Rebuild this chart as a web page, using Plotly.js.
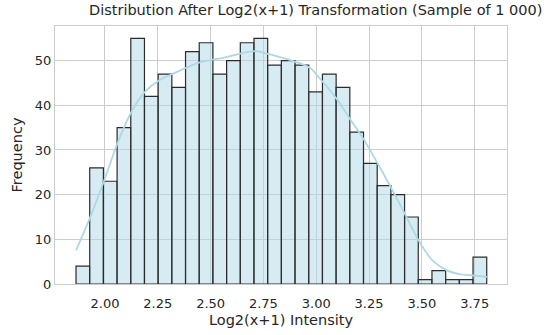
<!DOCTYPE html>
<html>
<head>
<meta charset="utf-8">
<script src="https://cdn.plot.ly/plotly-3.0.1.min.js"></script>
<style>html,body{margin:0;padding:0;background:#fff;}#chart{width:550px;height:335px;}</style>
</head>
<body>
<div id="chart"></div>
<script>
// Histogram bins (30 bins)
const binStart = 1.863;
const binWidth = 0.0648;
const counts = [4, 26, 23, 35, 55, 42, 47, 44, 52, 54, 47, 50, 54, 55, 49, 50, 49, 43, 47, 44, 34, 27, 22, 20, 15, 1, 3, 1, 1, 6];

// KDE curve
const kdeX = [1.863, 1.929, 1.992, 2.060, 2.126, 2.189, 2.260, 2.323, 2.449, 2.576, 2.670, 2.718, 2.781, 2.891, 2.970, 3.017, 3.096, 3.159, 3.222, 3.293, 3.356, 3.424, 3.485, 3.548, 3.616, 3.679, 3.742, 3.808];
const kdeY = [7.5, 14.8, 22.6, 31.6, 38.6, 43.0, 45.7, 47.1, 49.6, 50.8, 51.9, 52.1, 51.4, 49.9, 48.4, 46.0, 41.5, 37.0, 32.6, 26.8, 21.4, 15.3, 9.7, 5.4, 3.1, 2.2, 1.9, 1.6];

const xTicks = [2.00, 2.25, 2.50, 2.75, 3.00, 3.25, 3.50, 3.75];
const yTicks = [0, 10, 20, 30, 40, 50];

const titleText = "Distribution After Log2(x+1) Transformation (Sample of 1 000)";
const xTitle = "Log2(x+1) Intensity";
const yTitle = "Frequency";

const centers = counts.map((c, i) => binStart + binWidth * (i + 0.5));

const txt = '#262626';
const font = 'DejaVu Sans, sans-serif';

const data = [
  {
    type: 'bar',
    x: centers,
    y: counts,
    width: binWidth,
    marker: {color: 'rgba(173,216,230,0.5)', line: {color: '#2b2b2b', width: 1.2}},
    hoverinfo: 'skip'
  },
  {
    type: 'scatter',
    mode: 'lines',
    x: kdeX,
    y: kdeY,
    line: {color: '#add8e6', width: 1.8, shape: 'spline', smoothing: 0.8},
    hoverinfo: 'skip'
  }
];

const layout = {
  width: 550, height: 335,
  margin: {l: 55, r: 43, t: 26, b: 51},
  paper_bgcolor: '#fff', plot_bgcolor: '#fff',
  showlegend: false,
  bargap: 0,
  font: {family: font, color: txt, size: 13},
  title: {text: titleText, font: {family: font, size: 14.5, color: txt}, x: 0.574, xanchor: 'center', y: 0.985, yanchor: 'top'},
  xaxis: {
    range: [1.7635, 3.903],
    tickvals: xTicks,
    ticktext: xTicks.map(v => v.toFixed(2)),
    showgrid: true, gridcolor: '#cccccc', gridwidth: 1,
    showline: true, linecolor: '#cccccc', linewidth: 1, mirror: true,
    zeroline: false, ticks: 'outside', ticklen: 7, tickcolor: 'rgba(0,0,0,0)',
    tickfont: {size: 13, color: txt},
    title: {text: xTitle, font: {size: 14.5, color: txt}, standoff: 5}
  },
  yaxis: {
    range: [0, 57.75],
    tickvals: yTicks,
    showgrid: true, gridcolor: '#cccccc', gridwidth: 1,
    showline: true, linecolor: '#cccccc', linewidth: 1, mirror: true,
    zeroline: false, ticks: '', ticklen: 0,
    tickfont: {size: 13, color: txt},
    title: {text: yTitle, font: {size: 14.5, color: txt}, standoff: 8}
  }
};

Plotly.newPlot('chart', data, layout, {staticPlot: true, displayModeBar: false});
</script>
</body>
</html>
